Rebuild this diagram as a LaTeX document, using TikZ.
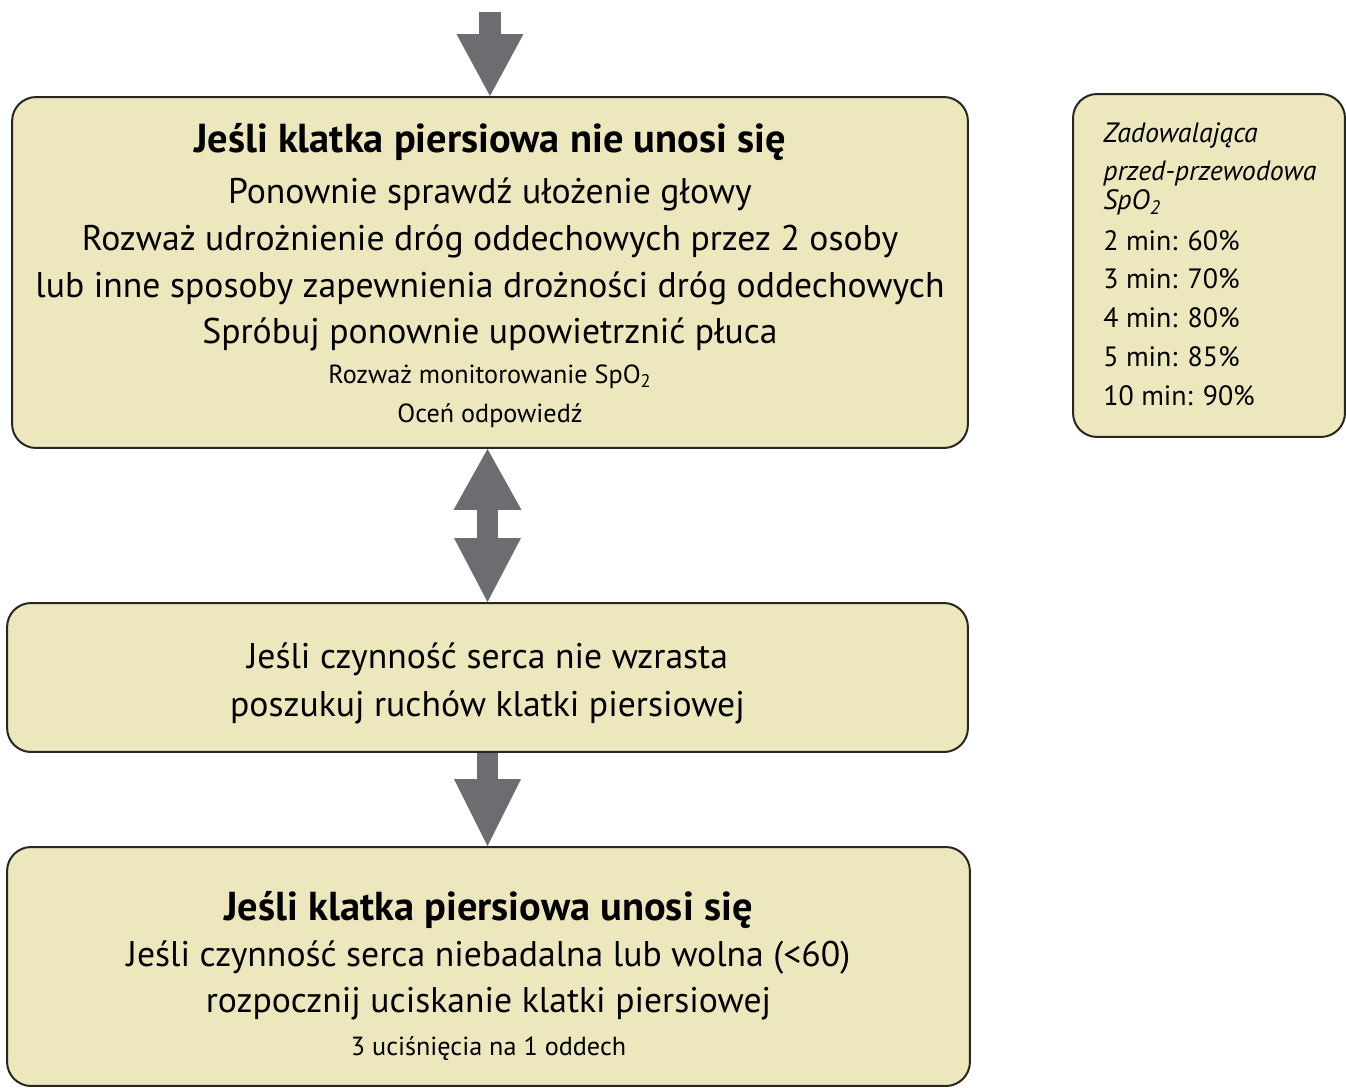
\documentclass[tikz,border=0pt]{standalone}
\usepackage{fontspec}
\setmainfont{PT Sans}
\usetikzlibrary{arrows.meta}

\definecolor{boxfill}{RGB}{237,231,190}
\definecolor{boxline}{RGB}{40,38,32}
\definecolor{arrowgray}{RGB}{108,109,112}

\tikzset{
	stepbox/.style={draw=boxline, line width=0.04cm, fill=boxfill, rounded corners=0.48cm, inner sep=0pt},
	bigarrow/.style={draw=arrowgray, line width=0.43cm},
	bodyline/.style={anchor=base, inner sep=0pt, font=\fontsize{20.3}{24}\selectfont},
	titleline/.style={anchor=base, inner sep=0pt, font=\fontsize{23}{27}\selectfont\bfseries},
	smallline/.style={anchor=base, inner sep=0pt, font=\fontsize{14.9}{18}\selectfont},
	sideline/.style={anchor=base west, inner sep=0pt, font=\fontsize{15.9}{19}\selectfont}
}

\begin{document}
\begin{tikzpicture}[x=0.02cm, y=-0.02cm]
	\begin{scope}[>=latex] %block arrows use Triangle tips below
	\useasboundingbox (0,0) rectangle (1346,1088);
	
	\pgfmathsetmacro\xTop{490}
	\pgfmathsetmacro\xMid{487.5}
	\pgfmathsetmacro\xLow{488.5}
	
	% boxes
	\node (nieUnosi) at (\xTop, 272.5) [stepbox, minimum width=19.12cm, minimum height=7.02cm] {};
	\node (serce) at (\xMid, 677.5) [stepbox, minimum width=19.22cm, minimum height=2.98cm] {};
	\node (unosi) at (\xLow, 966.5) [stepbox, minimum width=19.26cm, minimum height=4.78cm] {};
	\node (spo) at (1209, 265.5) [stepbox, minimum width=5.44cm, minimum height=6.86cm] {};
	
	% texts of the first box
	\node (nieUnosiT) at (\xTop, 153) [titleline] {Jeśli klatka piersiowa nie unosi się};
	\node (glowa) at (\xTop, 203) [bodyline] {Ponownie sprawdź ułożenie głowy};
	\node (dwieOsoby) at (\xTop, 250) [bodyline] {Rozważ udrożnienie dróg oddechowych przez 2 osoby};
	\node (drogi) at (\xTop, 297) [bodyline] {lub inne sposoby zapewnienia drożności dróg oddechowych};
	\node (pluca) at (\xTop, 343) [bodyline] {Spróbuj ponownie upowietrznić płuca};
	\node (monitor) at (\xTop, 383) [smallline] {Rozważ monitorowanie SpO\textsubscript{2}};
	\node (ocena) at (\xTop, 422) [smallline] {Oceń odpowiedź};
	
	% texts of the second box
	\node (wzrasta) at (\xMid, 668) [bodyline] {Jeśli czynność serca nie wzrasta};
	\node (ruchy) at (\xMid, 716) [bodyline] {poszukuj ruchów klatki piersiowej};
	
	% texts of the third box
	\node (unosiT) at (\xLow, 920) [titleline] {Jeśli klatka piersiowa unosi się};
	\node (wolna) at (\xLow, 966) [bodyline] {Jeśli czynność serca niebadalna lub wolna (<60)};
	\node (uciskanie) at (\xLow, 1012) [bodyline] {rozpocznij uciskanie klatki piersiowej};
	\node (oddech) at (\xLow, 1055) [smallline] {3 uciśnięcia na 1 oddech};
	
	% side box
	\node (spoA) at (1103, 143) [sideline] {\itshape Zadowalająca};
	\node (spoB) at (1103, 180) [sideline] {\itshape przed-przewodowa};
	\node (spoC) at (1103, 210) [sideline] {\itshape SpO\textsubscript{2}};
	\foreach \t/\p [count=\i] in {2/60, 3/70, 4/80, 5/85, 10/90}{
		\node (min\t) at (1103, {250 + 38.8*(\i - 1)}) [sideline] {\t{} min: \p\%};
	}
	
	% arrows
	\coordinate (start) at (\xTop, 12);
	\draw[bigarrow, -{Triangle[width=1.34cm, length=1.24cm, line width=0pt]}] (start) -- (nieUnosi.north);
	\draw[bigarrow, {Triangle[width=1.36cm, length=1.22cm, line width=0pt]}-{Triangle[width=1.34cm, length=1.28cm, line width=0pt]}]
	(serce.north |- nieUnosi.south) -- (serce.north);
	\draw[bigarrow, -{Triangle[width=1.34cm, length=1.34cm, line width=0pt]}] (serce.south) -- (serce.south |- unosi.north);
	
	\end{scope}
\end{tikzpicture}
\end{document}
